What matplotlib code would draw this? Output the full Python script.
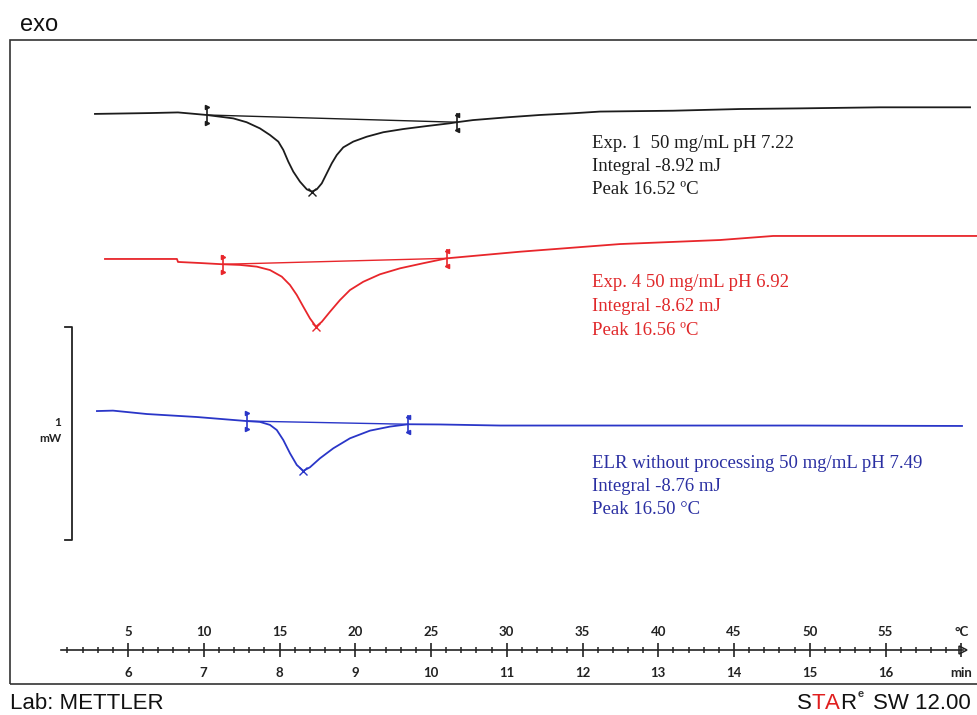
import matplotlib.pyplot as plt
from matplotlib.patches import Rectangle

W, H = 977, 715

# temperature axis (deg C) and time axis (min), 5 K/min
temp_ticks = [5, 10, 15, 20, 25, 30, 35, 40, 45, 50, 55, 60]
temp_labels = ['5', '10', '15', '20', '25', '30', '35', '40', '45', '50', '55', '°C']
temp_minor = list(range(1, 61))
time_ticks = [6, 7, 8, 9, 10, 11, 12, 13, 14, 15, 16, 17]
time_labels = ['6', '7', '8', '9', '10', '11', '12', '13', '14', '15', '16', 'min']

# Exp. 1 (black): temperature in deg C, heat flow in mW (display offset included)
exp1_temp = [2.82, 6.45, 8.30, 9.42, 10.19, 11.07, 11.95, 12.83, 13.71, 14.37,
             14.92, 15.25, 15.58, 15.91, 16.35, 16.80, 17.13, 17.46, 17.79, 18.12,
             18.45, 18.78, 19.21, 19.87, 20.76, 21.85, 23.17, 24.72, 26.25, 26.70,
             27.77, 30.02, 32.19, 34.37, 36.16, 40.97, 45.40, 49.36, 54.64, 60.58]
exp1_hf = [2.822, 2.826, 2.829, 2.822, 2.817, 2.809, 2.801, 2.783, 2.754, 2.723,
           2.692, 2.653, 2.598, 2.551, 2.504, 2.468, 2.457, 2.468, 2.496, 2.543,
           2.590, 2.629, 2.665, 2.692, 2.715, 2.736, 2.751, 2.765, 2.778, 2.783,
           2.793, 2.806, 2.817, 2.825, 2.833, 2.837, 2.845, 2.848, 2.853, 2.853]
exp1_limits_t = [10.19, 26.70]
exp1_limits_hf = [2.817, 2.783]
exp1_peak = (17.13, 2.457)

# Exp. 4 (red)
exp4_temp = [3.48, 8.23, 8.30, 9.75, 11.29, 12.39, 13.50, 14.37, 15.15, 15.69,
             16.14, 16.57, 17.01, 17.41, 17.79, 18.33, 18.99, 19.65, 20.53, 21.63,
             22.95, 24.49, 26.04, 30.87, 37.48, 44.08, 47.59, 61.04]
exp4_hf = [2.141, 2.141, 2.127, 2.122, 2.116, 2.113, 2.105, 2.089, 2.058, 2.019,
           1.972, 1.917, 1.862, 1.823, 1.846, 1.893, 1.948, 1.995, 2.034, 2.069,
           2.097, 2.121, 2.144, 2.175, 2.211, 2.230, 2.249, 2.249]
exp4_limits_t = [11.29, 26.04]
exp4_limits_hf = [2.116, 2.144]
exp4_peak = (17.41, 1.823)

# ELR without processing (blue)
elr_temp = [2.95, 4.01, 6.25, 9.55, 12.83, 13.71, 14.37, 14.82, 15.25, 15.69,
            16.14, 16.57, 17.01, 17.67, 18.55, 19.65, 20.97, 22.29, 23.50, 25.59,
            29.55, 36.16, 49.36, 60.05]
elr_hf = [1.427, 1.429, 1.413, 1.399, 1.380, 1.376, 1.362, 1.338, 1.291, 1.229,
          1.174, 1.146, 1.163, 1.205, 1.252, 1.299, 1.335, 1.354, 1.365, 1.364,
          1.359, 1.359, 1.359, 1.357]
elr_limits_t = [12.83, 23.50]
elr_limits_hf = [1.380, 1.365]
elr_peak = (16.57, 1.146)

exp1_text = ['Exp. 1  50 mg/mL pH 7.22', 'Integral -8.92 mJ', 'Peak 16.52 ºC']
exp4_text = ['Exp. 4 50 mg/mL pH 6.92', 'Integral -8.62 mJ', 'Peak 16.56 ºC']
elr_text = ['ELR without processing 50 mg/mL pH 7.49', 'Integral -8.76 mJ', 'Peak 16.50 °C']

BLACK = '#1c1c1c'
RED = '#e8262b'
BLUE = '#2a36c8'


def px(x, y):
    """pixel position -> figure fraction"""
    return x / W, 1 - y / H


fig = plt.figure(figsize=(W / 100, H / 100), dpi=100)
ax = fig.add_axes([0, 0, 1, 1])
ax.patch.set_alpha(0)
ax.set_xlim(5 - 128 / 15.15, 5 + 849 / 15.15)
ax.set_ylim(0, H / 213)

# frame
fig.patches.append(Rectangle(px(10, 684), 990 / W, 644 / H, transform=fig.transFigure,
                             fill=False, lw=1.2, ec='#333333'))

curves = [
    (exp1_temp, exp1_hf, exp1_limits_t, exp1_limits_hf, exp1_peak, BLACK),
    (exp4_temp, exp4_hf, exp4_limits_t, exp4_limits_hf, exp4_peak, RED),
    (elr_temp, elr_hf, elr_limits_t, elr_limits_hf, elr_peak, BLUE),
]
for temp, hf, lt, lhf, peak, c in curves:
    ax.plot(temp, hf, color=c, lw=1.3, solid_joinstyle='round')
    # integration baseline
    ax.plot(lt, lhf, color=c, lw=1.0)
    # integration limits
    for i in range(2):
        ax.vlines(lt[i], lhf[i] - 0.042, lhf[i] + 0.042, color=c, lw=1.2)
        m = '>' if i == 0 else '<'
        ax.plot([lt[i], lt[i]], [lhf[i] - 0.036, lhf[i] + 0.036], ls='none',
                marker=m, ms=3, color=c)
    ax.plot(peak[0], peak[1], marker='x', ms=6, mew=1.0, color=c)

# 1 mW scale bar
scale_t = 1.30
scale_top = 1.822
scale_len = 1.0
ax.plot([scale_t - 0.46, scale_t, scale_t, scale_t - 0.46],
        [scale_top, scale_top, scale_top - scale_len, scale_top - scale_len],
        color='#222222', lw=1.3)
fig.text(*px(61, 422), '1', ha='right', va='center', fontsize=8.5, family='Lato',
         fontweight='bold', color='#222222')
fig.text(*px(61, 438), 'mW', ha='right', va='center', fontsize=8.5, family='Lato',
         fontweight='bold', color='#222222')

# temperature axis drawn on the top spine moved down
axis_y = (H - 650) / 213
for s in ['left', 'right', 'bottom']:
    ax.spines[s].set_visible(False)
ax.spines['top'].set_position(('data', axis_y))
ax.spines['top'].set_bounds(0.6, 60.1)
ax.spines['top'].set_linewidth(1.2)
ax.spines['top'].set_color('#222222')
ax.set_yticks([])
ax.xaxis.set_ticks_position('top')
ax.set_xticks(temp_ticks, temp_labels)
ax.set_xticks(temp_minor, minor=True)
ax.tick_params(axis='x', which='major', direction='inout', length=10, width=1.2,
               pad=4, labelsize=9.5, colors='#222222')
ax.tick_params(axis='x', which='minor', direction='inout', length=4.5, width=1.1,
               colors='#222222')
for lab in ax.get_xticklabels():
    lab.set_family('Lato')
    lab.set_fontweight('bold')
ax.plot(60.1, axis_y, marker='>', ms=6, fillstyle='none', mew=1.1, color='#222222')

sec = ax.secondary_xaxis((H - 650) / H, functions=(lambda t: t / 5 + 5,
                                                   lambda m: (m - 5) * 5))
sec.set_xticks(time_ticks, time_labels)
sec.tick_params(length=0, pad=12, labelsize=9.5, colors='#222222')
for s in sec.spines.values():
    s.set_visible(False)
for lab in sec.get_xticklabels():
    lab.set_family('Lato')
    lab.set_fontweight('bold')

# annotations
blocks = [(exp1_text, [148, 171, 194], BLACK),
          (exp4_text, [287, 311, 335], '#e0282a'),
          (elr_text, [468, 491, 514], '#2a2fa2')]
for lines, ys, c in blocks:
    for line, y in zip(lines, ys):
        fig.text(*px(592, y), line, ha='left', va='baseline', fontsize=13.5,
                 family='Liberation Serif', color=c)

fig.text(*px(20, 31), 'exo', ha='left', va='baseline', fontsize=17,
         family='Liberation Sans', color='#111111')
fig.text(*px(10, 709), 'Lab: METTLER', ha='left', va='baseline', fontsize=16,
         family='Liberation Sans', color='#111111')
for x, s, c in [(797, 'S', '#111111'), (812, 'T', '#e01e1e'), (825, 'A', '#e01e1e'),
                (840, 'R', '#111111'), (873, 'SW 12.00', '#111111')]:
    fig.text(*px(x, 709), s, ha='left', va='baseline', fontsize=16,
             family='Liberation Sans', color=c)
fig.text(*px(858, 697), 'e', ha='left', va='baseline', fontsize=8,
         family='Liberation Sans', fontweight='bold', color='#333333')

fig.savefig('out.png', dpi=100)
